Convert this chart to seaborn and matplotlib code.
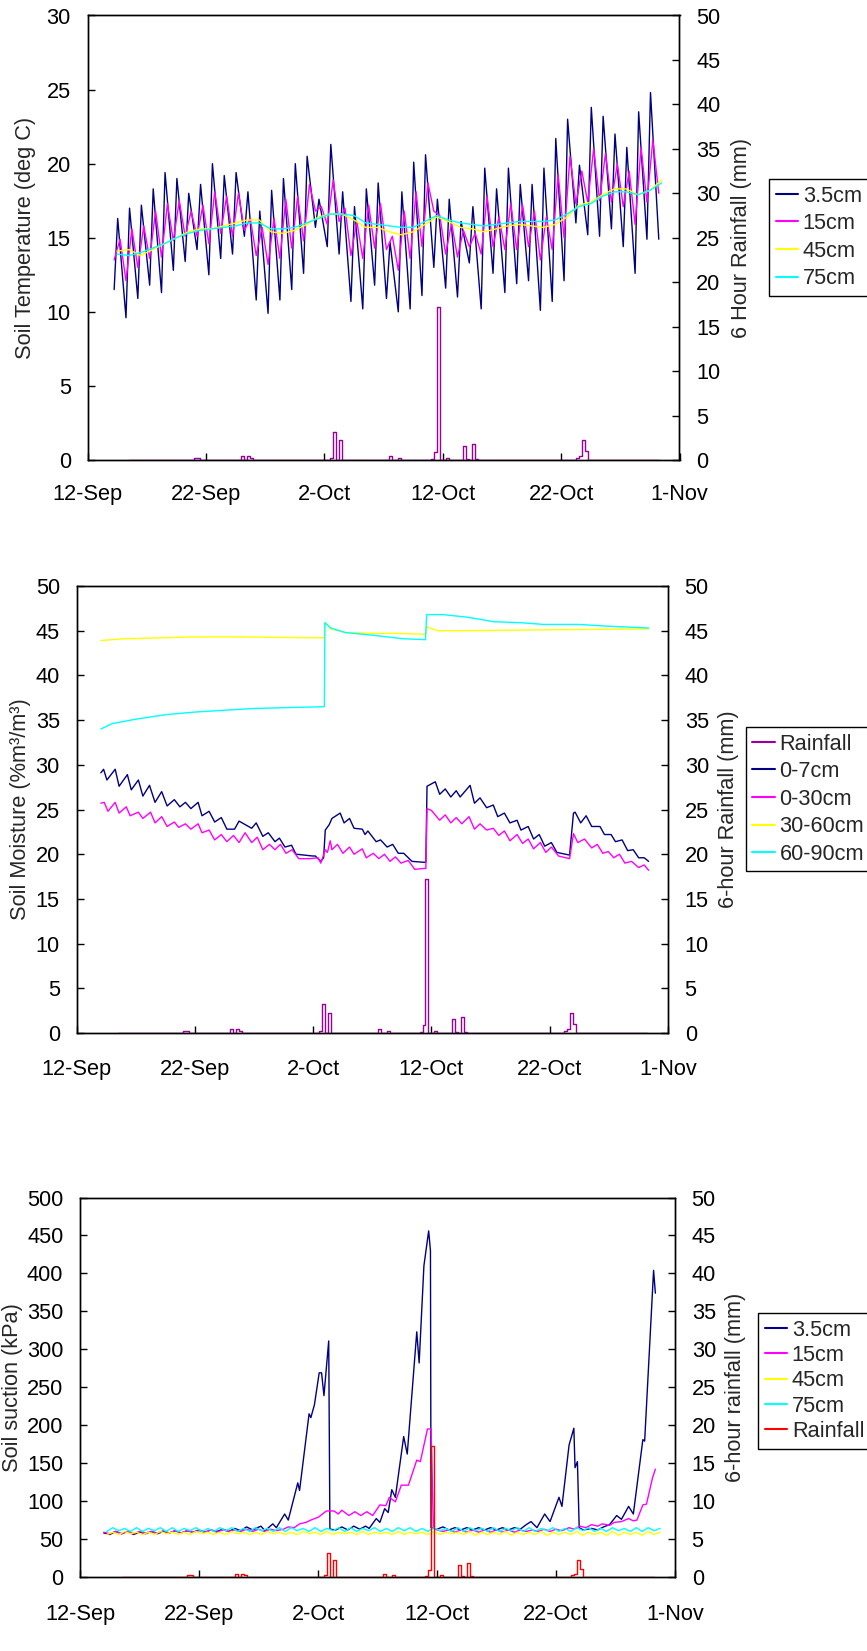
import numpy as np
import pandas as pd
import matplotlib
matplotlib.use('Agg')
import matplotlib.pyplot as plt
import seaborn as sns
from matplotlib.lines import Line2D

# --- data (days counted from 12-Sep) ---
start = pd.Timestamp('2002-09-12')
tick_days = [0, 10, 20, 30, 40, 50]
tick_labels = ['12-Sep', '22-Sep', '2-Oct', '12-Oct', '22-Oct', '1-Nov']

# 6-hour rainfall events (mm), all other 6-h slots are zero
rain_first, rain_last = 3.5, 48.25
rain_day = [9.0, 9.25, 13.0, 13.5, 13.75, 20.5, 20.75, 21.25, 25.5, 26.25, 29.0, 29.25,
            29.5, 30.25, 31.75, 32.0, 32.5, 32.75, 41.25, 41.5, 41.75, 42.0]
rain_mm = [0.2, 0.2, 0.4, 0.4, 0.2, 0.2, 3.2, 2.2, 0.4, 0.2, 0.1, 0.9,
           17.2, 0.2, 1.6, 0.1, 1.8, 0.1, 0.2, 0.4, 2.2, 1.0]

# soil temperature (deg C), one min (06h) and one max per day from day 2
temp_days = list(range(2, 49))
t35_min = [11.5, 9.6, 10.9, 11.8, 11.3, 12.8, 13.4, 14.2, 12.5, 13.6, 13.9, 15.1, 10.8, 9.9,
           10.8, 11.5, 12.6, 15.7, 14.4, 13.9, 10.7, 10.2, 11.8, 10.9, 10.0, 10.2, 11.1, 13.0,
           11.6, 11.0, 13.3, 10.2, 12.6, 11.3, 11.9, 12.1, 10.1, 10.7, 12.1, 16.0, 15.2, 15.1,
           15.6, 14.4, 12.6, 14.9, 14.9]
t35_max = [16.3, 17.0, 17.2, 18.3, 19.4, 19.0, 18.0, 18.6, 20.0, 19.2, 19.4, 18.1, 16.8, 18.2,
           19.0, 20.0, 20.5, 17.6, 21.3, 18.1, 17.1, 18.3, 18.7, 14.7, 18.1, 20.1, 20.6, 17.6,
           17.6, 16.1, 17.1, 19.7, 18.3, 19.7, 18.6, 18.6, 19.7, 21.7, 23.0, 19.9, 23.8, 23.2,
           22.0, 21.1, 23.5, 24.8]
t15_min = [13.5, 12.1, 13.0, 13.6, 13.7, 14.8, 15.1, 15.1, 14.6, 15.3, 15.1, 15.5, 13.8, 13.2,
           13.6, 14.3, 14.8, 16.8, 15.9, 16.1, 13.8, 13.6, 14.3, 14.2, 12.8, 13.6, 14.4, 16.8,
           13.9, 13.7, 14.4, 13.9, 14.4, 14.2, 14.2, 14.4, 13.5, 14.2, 15.0, 17.3, 17.4, 17.5,
           17.4, 17.1, 15.9, 17.4, 18.0]
t15_max = [14.9, 15.6, 15.8, 16.8, 17.3, 17.5, 16.8, 17.2, 18.1, 17.8, 18.0, 16.3, 15.7, 16.3,
           17.6, 17.8, 18.6, 17.1, 18.9, 17.0, 16.1, 17.2, 17.3, 15.1, 16.8, 18.1, 18.7, 16.5,
           16.0, 15.5, 15.3, 17.8, 16.4, 17.3, 17.2, 16.8, 16.4, 19.3, 20.5, 19.5, 21.0, 20.7,
           20.0, 19.5, 21.1, 21.6]
t45 = [14.1, 14.2, 13.8, 14.2, 14.6, 15.0, 15.4, 15.6, 15.6, 15.8, 16.0, 16.2, 16.2, 15.4,
       15.3, 15.5, 15.9, 16.4, 16.6, 16.6, 16.2, 15.7, 15.7, 15.4, 15.2, 15.4, 15.9, 16.4,
       16.1, 15.7, 15.6, 15.4, 15.6, 15.8, 15.9, 15.8, 15.7, 15.9, 16.4, 17.2, 17.4, 17.9,
       18.3, 18.3, 17.9, 18.2, 18.9]
t75 = [13.9, 13.8, 14.0, 14.3, 14.6, 15.0, 15.3, 15.5, 15.6, 15.7, 15.8, 16.0, 16.0, 15.6,
       15.6, 15.7, 16.0, 16.3, 16.6, 16.6, 16.5, 16.0, 15.9, 15.8, 15.7, 15.7, 16.1, 16.5,
       16.2, 16.0, 15.9, 15.8, 15.9, 16.0, 16.1, 16.1, 16.1, 16.2, 16.6, 17.1, 17.3, 17.8,
       18.1, 18.1, 17.9, 18.2, 18.7]

# soil moisture (%m3/m3)
m07_day = [2.06, 2.29, 2.57, 3.27, 3.60, 4.30, 4.63, 5.23, 5.61, 6.17, 6.64, 7.20, 7.66, 8.27,
           8.74, 9.21, 9.67, 10.28, 10.61, 11.21, 11.68, 12.24, 12.71, 13.36, 13.74, 14.81,
           15.19, 15.75, 16.21, 16.78, 17.15, 17.62, 18.18, 18.55, 19.95, 20.19, 20.65, 20.89,
           21.03, 21.36, 21.59, 22.29, 22.62, 23.08, 23.46, 24.16, 24.39, 24.63, 25.33, 25.70,
           26.26, 26.73, 27.20, 27.66, 28.36, 29.30, 29.53, 29.63, 30.33, 30.70, 31.17, 31.64,
           32.10, 32.43, 33.27, 33.64, 34.11, 34.67, 35.23, 35.61, 36.17, 36.64, 37.24, 37.57,
           38.18, 38.64, 39.11, 39.58, 40.14, 40.61, 41.68, 42.01, 42.15, 42.62, 43.08, 43.55,
           44.25, 44.63, 45.19, 45.56, 46.12, 46.59, 47.06, 47.52, 47.99, 48.36]
m07_val = [29.1, 29.5, 28.3, 29.5, 27.6, 28.9, 27.2, 28.3, 26.5, 27.7, 25.8, 27.0, 25.4, 26.1,
           25.3, 25.8, 25.1, 25.8, 24.3, 24.8, 23.6, 24.1, 22.8, 22.8, 23.7, 22.9,
           23.5, 22.0, 22.4, 21.4, 21.8, 20.8, 21.0, 20.0, 19.8, 19.8, 19.2, 19.6,
           22.7, 23.3, 24.0, 24.6, 23.5, 24.0, 22.9, 22.8, 22.2, 22.6, 21.4, 21.6,
           20.8, 21.1, 20.1, 20.1, 19.2, 19.1, 19.1, 27.6, 28.1, 26.7, 27.3, 26.4,
           27.1, 26.4, 27.7, 25.7, 26.3, 25.2, 25.5, 24.2, 24.6, 23.5, 23.8, 22.7,
           23.1, 21.7, 22.2, 20.9, 21.3, 20.2, 19.9, 24.6, 24.7, 23.5, 24.3, 23.1,
           23.1, 22.2, 22.2, 21.4, 21.6, 20.4, 20.5, 19.6, 19.6, 19.2]
m030_day = [2.06, 2.34, 2.66, 3.27, 3.60, 4.21, 4.53, 5.23, 5.61, 6.26, 6.64, 7.20, 7.66, 8.27,
            8.64, 9.21, 9.67, 10.28, 10.61, 11.21, 11.68, 12.24, 12.71, 13.27, 13.74, 14.25,
            14.81, 15.28, 15.75, 16.31, 16.78, 17.24, 17.71, 18.22, 18.79, 19.72, 20.42, 20.65,
            21.03, 21.21, 21.45, 21.59, 22.06, 22.52, 23.08, 23.46, 24.16, 24.49, 25.09, 25.56,
            26.03, 26.50, 26.96, 27.43, 28.04, 28.60, 29.30, 29.53, 29.63, 30.00, 30.70, 31.17,
            31.64, 32.10, 32.57, 33.18, 33.64, 34.11, 34.67, 35.23, 35.70, 36.17, 36.64, 37.24,
            37.71, 38.18, 38.64, 39.21, 39.67, 40.14, 40.75, 41.68, 42.01, 42.38, 42.94, 43.55,
            44.02, 44.49, 44.95, 45.42, 45.89, 46.36, 46.92, 47.52, 47.99, 48.36]
m030_val = [25.7, 25.8, 24.8, 25.8, 24.6, 25.3, 24.3, 24.7, 24.0, 24.7, 23.5, 24.2, 23.1, 23.6,
            23.0, 23.4, 22.8, 23.4, 22.4, 22.7, 21.6, 22.2, 21.4, 22.1, 21.3, 22.4,
            21.3, 21.9, 20.5, 21.1, 20.5, 21.1, 20.1, 20.5, 19.5, 19.5, 19.6, 19.0,
            20.5, 20.2, 21.5, 20.5, 21.1, 20.1, 20.8, 20.0, 20.6, 19.6, 20.1, 19.5,
            20.0, 19.2, 19.7, 19.0, 19.3, 18.3, 18.4, 18.4, 25.1, 24.9, 23.8, 24.4,
            23.5, 24.1, 23.4, 24.2, 22.8, 23.4, 22.7, 22.9, 22.1, 22.6, 21.5, 22.2,
            21.2, 21.7, 20.6, 21.3, 20.2, 20.8, 19.8, 19.5, 22.3, 21.3, 21.7, 20.7,
            21.1, 20.1, 20.3, 19.6, 20.0, 19.0, 19.2, 18.5, 18.8, 18.2]
m3060_day = [2.06, 4.0, 7.0, 10.0, 14.0, 17.0, 20.95, 21.0, 21.5, 22.7, 25.0, 27.0, 29.5, 29.6,
             30.5, 33.0, 36.0, 40.0, 44.0, 48.36]
m3060_val = [43.9, 44.1, 44.2, 44.3, 44.3, 44.25, 44.2, 45.9, 45.2, 44.8, 44.7, 44.7, 44.6,
             45.45, 45.0, 45.0, 45.05, 45.1, 45.15, 45.2]
m6090_day = [2.06, 3.0, 5.0, 7.5, 10.0, 12.5, 15.0, 18.0, 20.95, 21.0, 21.5, 22.7, 25.0, 27.6,
             29.5, 29.6, 31.0, 33.1, 35.3, 37.5, 39.5, 42.5, 45.0, 48.36]
m6090_val = [34.0, 34.6, 35.1, 35.6, 35.9, 36.1, 36.3, 36.4, 36.5, 45.9, 45.3, 44.8, 44.5, 44.1,
             44.0, 46.8, 46.8, 46.5, 46.0, 45.9, 45.7, 45.7, 45.5, 45.3]

# soil suction (kPa)
s35_day = [2.0, 2.5, 3.0, 3.5, 4.0, 4.5, 5.0, 5.5, 6.0, 6.5, 7.0, 7.5, 8.0, 8.5, 9.0, 9.5, 10.0,
           10.5, 11.0, 11.5, 12.0, 12.5, 13.0, 13.5, 14.0, 14.5, 15.2, 15.55, 16.2, 16.5, 17.2,
           17.5, 18.3, 18.45, 19.25, 19.4, 19.7, 20.1, 20.3, 20.5, 20.9, 21.0, 21.5, 22.0, 22.5,
           23.0, 23.5, 24.0, 24.3, 24.9, 25.2, 25.6, 25.9, 26.2, 26.5, 27.2, 27.5, 28.3, 28.5,
           28.9, 29.3, 29.45, 29.5, 30.0, 30.5, 31.0, 31.5, 32.0, 32.5, 33.0, 33.5, 34.0, 34.5,
           35.0, 35.5, 36.0, 36.5, 37.0, 37.5, 37.9, 38.4, 39.05, 39.5, 40.25, 40.5, 41.1, 41.5,
           41.6, 41.8, 41.95, 42.3, 43.0, 43.5, 44.0, 44.5, 45.1, 45.5, 46.1, 46.5, 47.3, 47.45,
           48.2, 48.35]
s35_val = [58, 56, 60, 57, 60, 56, 59, 57, 60, 57, 60, 58, 61, 58, 61, 59, 62,
           59, 62, 60, 63, 60, 64, 61, 66, 62, 67, 61, 70, 65, 83,
           75, 124, 114, 215, 210, 227, 269, 269, 239, 311, 63, 62, 66, 62,
           67, 63, 67, 64, 77, 72, 90, 85, 115, 105, 185, 162, 323, 282,
           410, 456, 430, 65, 63, 66, 62, 65, 62, 65, 62, 65, 62, 65,
           62, 65, 62, 65, 63, 69, 73, 65, 83, 73, 105, 93, 174, 196,
           144, 152, 65, 62, 64, 62, 66, 69, 81, 76, 93, 83, 181, 179,
           404, 374]
s15_day = [2.0, 2.5, 3.0, 3.5, 4.0, 4.5, 5.0, 5.5, 6.0, 6.5, 7.0, 7.5, 8.0, 8.5, 9.0, 9.5, 10.0,
           10.5, 11.0, 11.5, 12.0, 12.5, 13.0, 13.5, 14.0, 14.5, 15.0, 15.5, 16.0, 16.5, 17.1,
           17.5, 18.0, 18.45, 19.0, 19.4, 20.05, 20.7, 21.35, 21.7, 22.0, 22.6, 23.1, 23.6, 24.1,
           24.6, 25.2, 25.7, 26.0, 26.5, 27.0, 27.6, 28.3, 28.6, 29.2, 29.5, 29.7, 30.0, 30.5,
           31.0, 31.5, 32.0, 32.5, 33.0, 33.5, 34.0, 34.5, 35.0, 35.5, 36.0, 36.5, 37.0, 37.5,
           38.0, 38.5, 39.0, 39.5, 40.0, 40.5, 41.1, 41.5, 42.0, 42.5, 43.0, 43.5, 43.9, 44.5,
           44.9, 45.5, 46.1, 46.5, 46.8, 47.3, 47.6, 48.1, 48.35]
s15_val = [59, 57, 60, 57, 60, 57, 60, 58, 60, 58, 61, 58, 61, 58, 61, 59, 61,
           59, 62, 59, 62, 60, 62, 60, 63, 60, 63, 60, 63, 61, 63,
           66, 65, 70, 72, 75, 79, 87, 87, 83, 88, 81, 86, 81, 86,
           81, 95, 94, 105, 99, 121, 121, 154, 152, 195, 195, 65, 62, 60,
           62, 59, 62, 59, 62, 59, 62, 59, 62, 59, 62, 59, 62, 60,
           62, 60, 63, 60, 63, 61, 65, 63, 67, 65, 69, 67, 70, 68,
           72, 73, 77, 74, 75, 95, 96, 130, 142]
suct_days = list(range(2, 49))
s45_lo = [56, 56, 57, 56, 56, 57, 56, 56, 57, 56, 56, 57, 56, 56, 57, 56, 56, 57, 56, 56, 57, 56,
          56, 57, 56, 56, 57, 56, 56, 57, 56, 55, 56, 56, 55, 56, 56, 55, 56, 56, 55, 56, 55, 55,
          56, 55, 56]
s45_hi = [59, 60, 59, 59, 60, 59, 59, 60, 59, 59, 60, 59, 59, 60, 59, 59, 60, 59, 60, 59, 59, 60,
          59, 59, 60, 59, 59, 60, 59, 59, 60, 59, 59, 60, 59, 59, 60, 59, 59, 60, 59, 59, 60, 59,
          59, 60, 59]
s75_lo = [60, 61, 60, 60, 61, 60, 60, 61, 60, 60, 61, 60, 60, 61, 60, 60, 61, 60, 60, 61, 60, 60,
          61, 60, 60, 61, 60, 60, 61, 60, 60, 61, 60, 60, 61, 60, 60, 61, 60, 60, 61, 60, 60, 61,
          60, 60, 61]
s75_hi = [65, 64, 65, 64, 65, 65, 64, 65, 64, 65, 65, 64, 65, 64, 65, 65, 64, 65, 64, 65, 65, 64,
          65, 64, 65, 65, 64, 65, 64, 65, 65, 64, 65, 64, 65, 65, 64, 65, 64, 65, 65, 64, 65, 64,
          65, 65, 64]

NAVY, MAG, YEL, CYAN = '#000080', '#FF00FF', '#FFFF00', '#00FFFF'
PURPLE, RED = '#990099', '#FF0000'
FS = 15.7


def to_dates(days):
    return start + pd.to_timedelta(np.asarray(days, dtype=float), unit='D')


def zigzag(days, lo, hi, lo_off, hi_off):
    # put one low and one high reading into each day, in time order
    t, v = [], []
    for i, d in enumerate(days):
        t.append(d + lo_off)
        v.append(lo[i])
        if i < len(hi):
            t.append(d + hi_off)
            v.append(hi[i])
    return t, v


def draw(ax, days, vals, color, **kw):
    sns.lineplot(x=to_dates(days), y=vals, ax=ax, color=color, lw=1.0,
                 estimator=None, sort=False, legend=False, **kw)


def draw_rain(ax, color):
    grid = np.arange(rain_first, rain_last + 0.125, 0.25)
    mm = np.zeros(len(grid))
    for d, v in zip(rain_day, rain_mm):
        mm[np.isclose(grid, d)] = v
    draw(ax, grid, mm, color, drawstyle='steps-post')


def style(ax, ax2, ymax, ystep, y2max, xpad):
    ax.set_xlim(start, start + pd.Timedelta(days=50))
    ax.set_xticks(to_dates(tick_days))
    ax.set_xticklabels(tick_labels)
    ax.set_ylim(0, ymax)
    ax.set_yticks(np.arange(0, ymax + 1e-9, ystep))
    ax2.set_ylim(0, y2max)
    ax2.set_yticks(np.arange(0, y2max + 1e-9, 5))
    ax.set_xlabel('')
    ax.tick_params(axis='x', direction='in', length=5, width=1, pad=xpad,
                   labelsize=FS, colors='black', bottom=True, top=False)
    ax.tick_params(axis='y', direction='in', length=5, width=1, pad=12,
                   labelsize=FS, colors='black', left=True, right=False)
    ax2.tick_params(axis='y', direction='in', length=5, width=1, pad=12,
                    labelsize=FS, colors='black', right=True, left=False)
    for a in (ax, ax2):
        for s in a.spines.values():
            s.set_color('black')
            s.set_linewidth(1.0)


def add_legend(fig, items, x, y, spacing):
    handles = [Line2D([], [], color=c, lw=1.5) for _, c in items]
    labels = [n for n, _ in items]
    leg = fig.legend(handles, labels, loc='upper left', bbox_to_anchor=(x, y),
                     bbox_transform=fig.transFigure, frameon=True, fancybox=False,
                     framealpha=1, edgecolor='black', fontsize=FS, handlelength=1.05,
                     handletextpad=0.2, borderpad=0.3, labelspacing=spacing,
                     borderaxespad=0)
    leg.get_frame().set_linewidth(1.0)


sns.set_theme(style='white')
plt.rcParams['font.family'] = ['Liberation Sans', 'DejaVu Sans']

W, H = 867, 1651
fig = plt.figure(figsize=(W / 100, H / 100), dpi=100)

# ---------- panel 1: soil temperature ----------
ax1 = fig.add_axes([87.5 / W, 1 - 460 / H, 592 / W, 444.5 / H])
ax1b = ax1.twinx()
t, v = zigzag(temp_days, t35_min, t35_max, 0.25, 0.55)
draw(ax1, t, v, NAVY)
t, v = zigzag(temp_days, t15_min, t15_max, 0.25, 0.75)
draw(ax1, t, v, MAG)
draw(ax1, [d + 0.5 for d in temp_days], t45, YEL)
draw(ax1, [d + 0.5 for d in temp_days], t75, CYAN)
draw_rain(ax1b, PURPLE)
style(ax1, ax1b, 30, 5, 50, 17.5)
ax1.set_ylabel('Soil Temperature (deg C)', fontsize=FS, va='center')
ax1.yaxis.set_label_coords(-0.104, 0.5)
ax1b.set_ylabel('6 Hour Rainfall (mm)', fontsize=FS, va='center')
ax1b.yaxis.set_label_coords(1.104, 0.5)
add_legend(fig, [('3.5cm', NAVY), ('15cm', MAG), ('45cm', YEL), ('75cm', CYAN)],
           769 / W, 1 - 179 / H, 0.3)

# ---------- panel 2: soil moisture ----------
ax2 = fig.add_axes([76.5 / W, 1 - 1033 / H, 591.5 / W, 447 / H])
ax2b = ax2.twinx()
draw(ax2, m07_day, m07_val, NAVY)
draw(ax2, m030_day, m030_val, MAG)
draw(ax2, m3060_day, m3060_val, YEL)
draw(ax2, m6090_day, m6090_val, CYAN)
draw_rain(ax2b, PURPLE)
style(ax2, ax2b, 50, 5, 50, 18.5)
ax2.set_ylabel('Soil Moisture (%m³/m³)', fontsize=FS, va='center')
ax2.yaxis.set_label_coords(-0.094, 0.5)
ax2b.set_ylabel('6-hour Rainfall (mm)', fontsize=FS, va='center')
ax2b.yaxis.set_label_coords(1.103, 0.5)
add_legend(fig, [('Rainfall', PURPLE), ('0-7cm', NAVY), ('0-30cm', MAG),
                 ('30-60cm', YEL), ('60-90cm', CYAN)],
           745.6 / W, 1 - 727 / H, 0.3)

# ---------- panel 3: soil suction ----------
ax3 = fig.add_axes([80 / W, 1 - 1577 / H, 595 / W, 379.5 / H])
ax3b = ax3.twinx()
draw(ax3, s35_day, s35_val, NAVY)
draw(ax3, s15_day, s15_val, MAG)
t, v = zigzag(suct_days, s45_lo, s45_hi, 0.25, 0.75)
draw(ax3, t, v, YEL)
t, v = zigzag(suct_days, s75_lo, s75_hi, 0.25, 0.75)
draw(ax3, t, v, CYAN)
draw_rain(ax3b, RED)
style(ax3, ax3b, 500, 50, 50, 19.5)
ax3.set_ylabel('Soil suction (kPa)', fontsize=FS, va='center')
ax3.yaxis.set_label_coords(-0.113, 0.5)
ax3b.set_ylabel('6-hour rainfall (mm)', fontsize=FS, va='center')
ax3b.yaxis.set_label_coords(1.102, 0.5)
add_legend(fig, [('3.5cm', NAVY), ('15cm', MAG), ('45cm', YEL), ('75cm', CYAN),
                 ('Rainfall', RED)],
           758 / W, 1 - 1313 / H, 0.2)

fig.savefig('out.png', dpi=100, facecolor='white')
